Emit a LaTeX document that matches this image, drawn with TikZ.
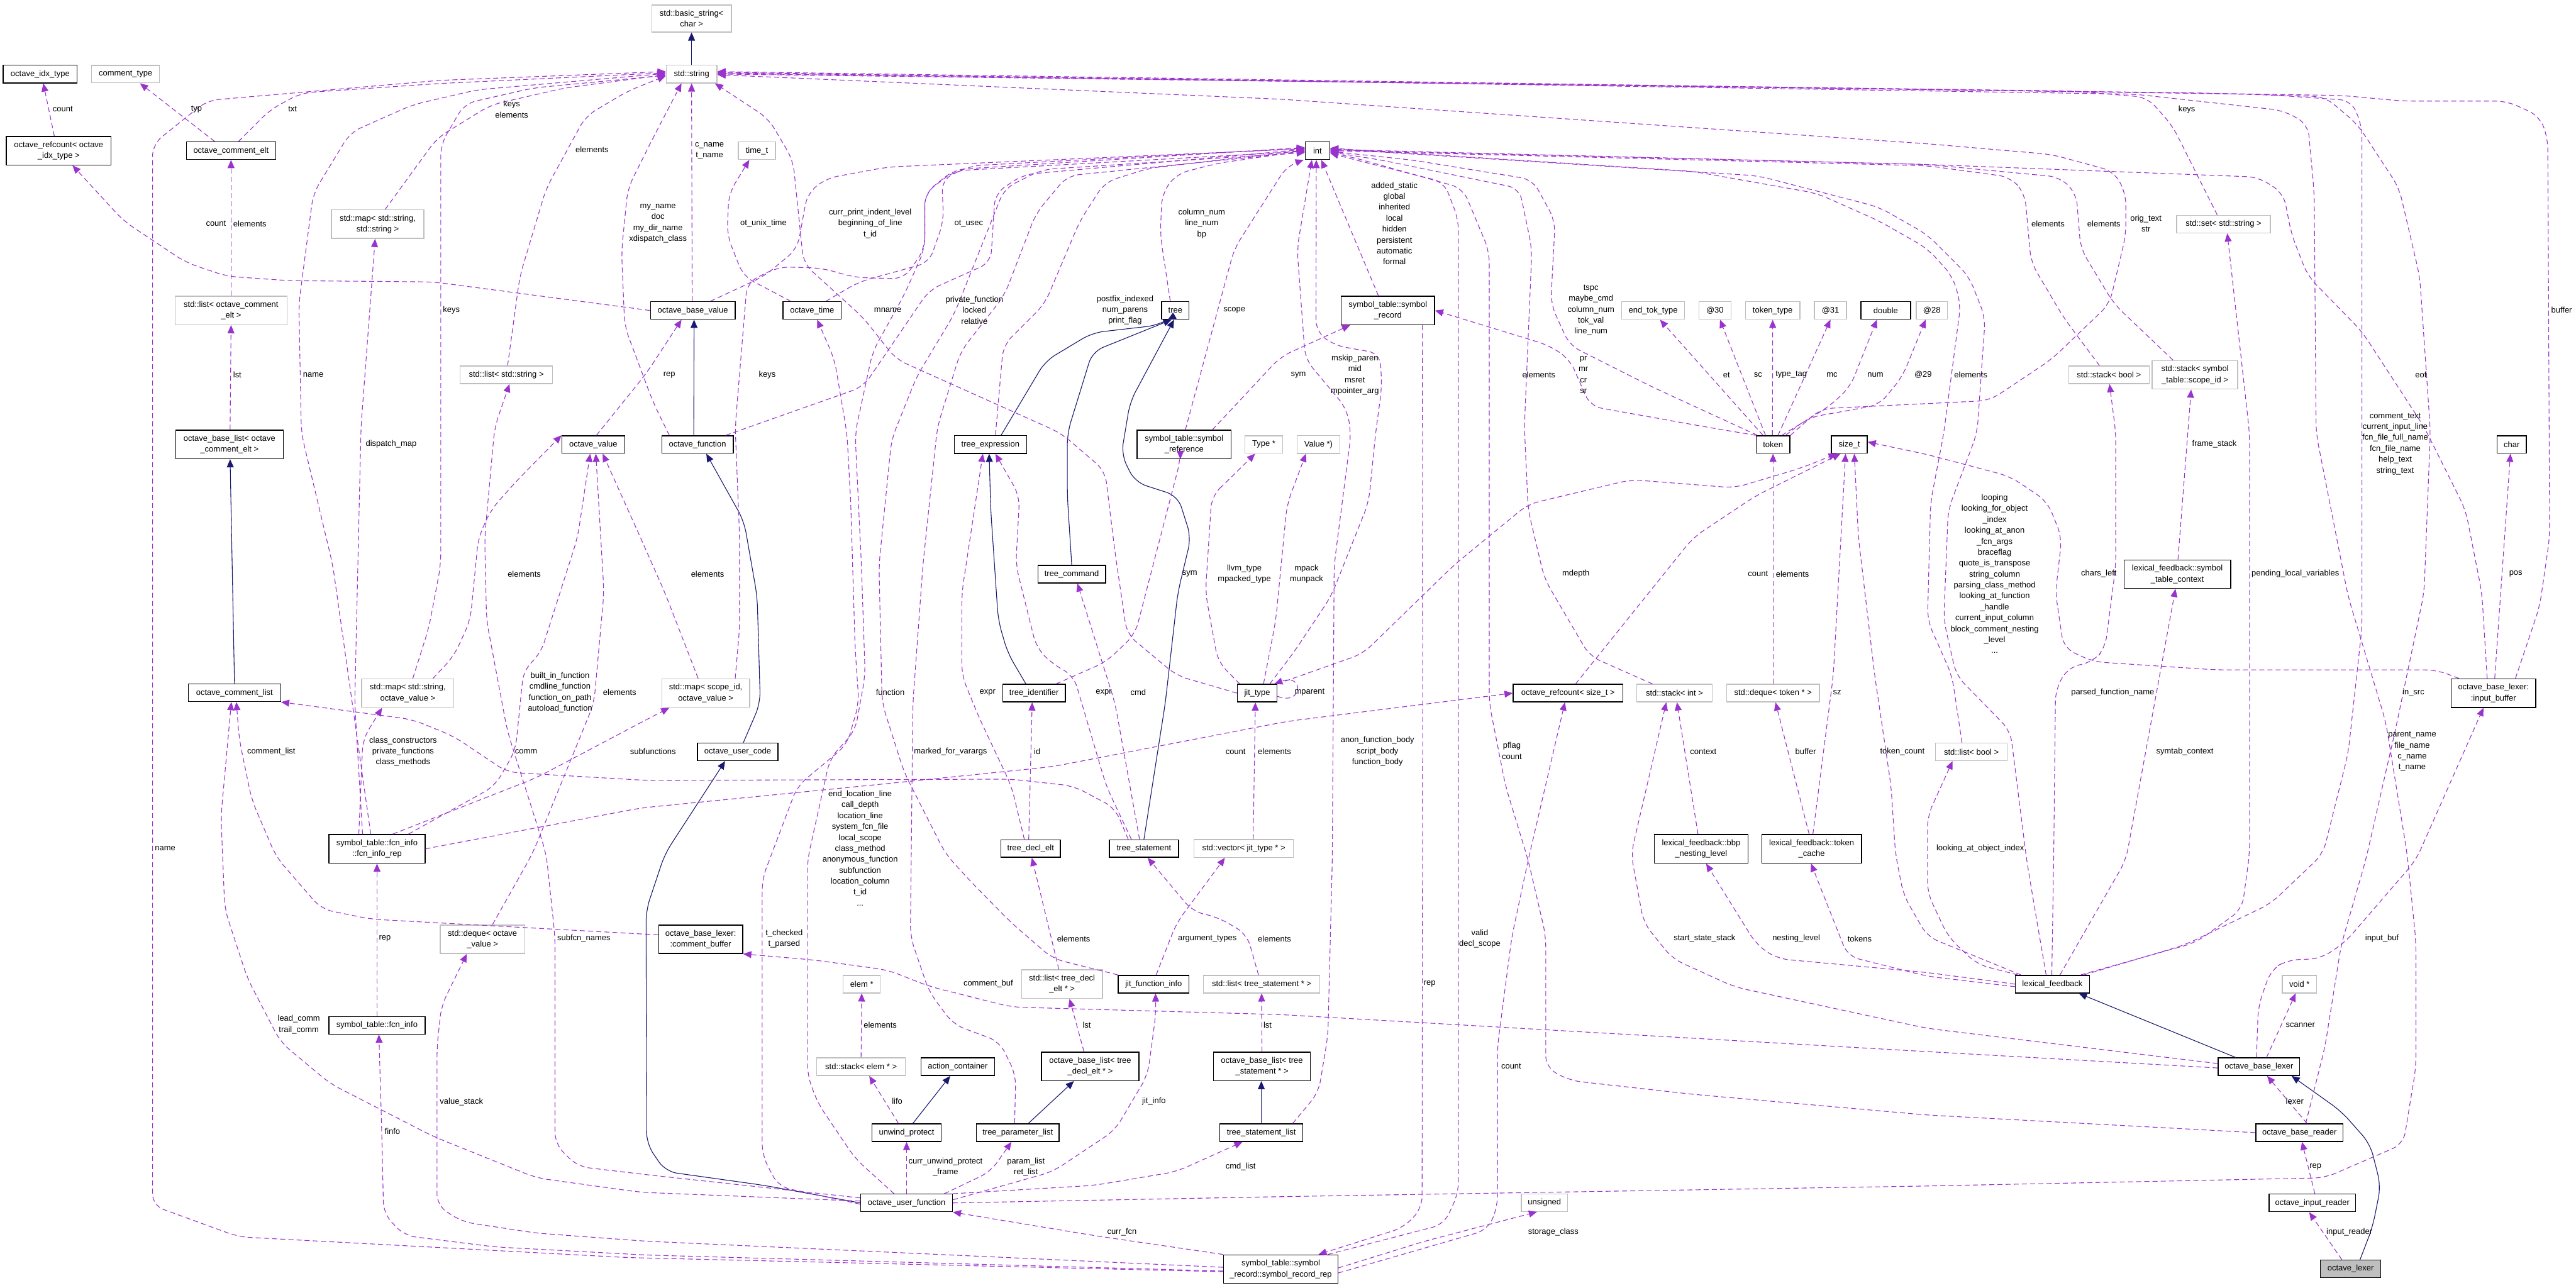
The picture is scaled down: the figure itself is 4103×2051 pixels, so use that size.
\documentclass[tikz,border=0pt]{standalone}
\usepackage{fontspec}
\setmainfont{Liberation Sans}
\usetikzlibrary{arrows.meta}
\definecolor{orch}{HTML}{9A32CD}
\definecolor{mnb}{HTML}{191970}
\definecolor{gsf}{HTML}{BFBFBF}
\newcommand\dfs{\fontsize{13}{17.4}\selectfont}
\begin{document}
\begin{tikzpicture}[x=1pt,y=-1pt,
 cb/.style={draw=black, line width=1.4pt, fill=white, font=\dfs, align=center, inner xsep=4pt, inner ysep=8pt, minimum height=28pt},
 cg/.style={cb, draw=gsf},
 usg/.style={draw=orch, line width=1.1pt, dash pattern=on 8pt off 5pt, rounded corners=18pt, -{Triangle[length=13pt,width=11pt]}},
 inh/.style={draw=mnb, line width=1.1pt, rounded corners=18pt, -{Triangle[length=13pt,width=11pt]}},
 lab/.style={font=\dfs, align=center, inner sep=0pt}]
\fill[white] (0,0) rectangle (4103,2051);
\useasboundingbox (0,0) rectangle (4103,2051);
% ---------------- nodes
\node[cb, minimum width=118pt] (idx) at (64,118) {octave\_idx\_type};
\node[cg, minimum width=108pt] (ctype) at (200,118) {comment\_type};
\node[cb, minimum width=167pt] (rcidx) at (93.5,240) {octave\_refcount< octave\\\_idx\_type >};
\node[cb, minimum width=142pt] (celt) at (368,240) {octave\_comment\_elt};
\node[cg, minimum width=147pt] (mapss) at (601.5,357) {std::map< std::string,\\std::string >};
\node[cg, minimum width=178pt] (lstce) at (368,494.5) {std::list< octave\_comment\\\_elt >};
\node[cg, minimum width=147pt] (lstr) at (806.5,597) {std::list< std::string >};
\node[cg, minimum width=127pt] (bstr) at (1101.5,29.5) {std::basic\_string<\\char >};
\node[cg, minimum width=81pt] (str) at (1101.5,118) {std::string};
\node[cg, minimum width=59pt] (timet) at (1205.5,240) {time\_t};
\node[cb, minimum width=135pt] (obv) at (1103.5,494.5) {octave\_base\_value};
\node[cb, minimum width=93pt] (otime) at (1293.5,494.5) {octave\_time};
\node[cb, minimum width=44pt] (tree) at (1872,494.5) {tree};
\node[cb, minimum width=39pt] (int) at (2098.5,240) {int};
\node[cb, minimum width=149pt] (symrec) at (2210.5,494.5) {symbol\_table::symbol\\\_record};
\node[cg, minimum width=100pt] (endtok) at (2633,494.5) {end\_tok\_type};
\node[cg, minimum width=51pt] (a30) at (2731.5,494.5) {@30};
\node[cg, minimum width=87pt] (toktype) at (2823.5,494.5) {token\_type};
\node[cg, minimum width=51pt] (a31) at (2915.5,494.5) {@31};
\node[cb, minimum width=79pt] (dbl) at (3003.5,494.5) {double};
\node[cg, minimum width=50pt] (a28) at (3077,494.5) {@28};
\node[cg, minimum width=149pt] (sset) at (3541.5,357) {std::set< std::string >};
\node[cg, minimum width=128pt] (stkb) at (3359,597) {std::stack< bool >};
\node[cg, minimum width=136pt] (stksc) at (3496,597) {std::stack< symbol\\\_table::scope\_id >};
\node[cb, minimum width=171pt] (cbl) at (365.5,708) {octave\_base\_list< octave\\\_comment\_elt >};
\node[cb, minimum width=100pt] (oval) at (945,708) {octave\_value};
\node[cb, minimum width=147pt] (ocl) at (373.5,1103.5) {octave\_comment\_list};
\node[cg, minimum width=147pt] (mapsov) at (649.5,1104) {std::map< std::string,\\octave\_value >};
\node[cb, minimum width=153pt] (fir) at (600.5,1352) {symbol\_table::fcn\_info\\::fcn\_info\_rep};
\node[cb, minimum width=114pt] (ofun) at (1111,708) {octave\_function};
\node[cb, minimum width=115pt] (texpr) at (1577.5,708) {tree\_expression};
\node[cb, minimum width=150pt] (symref) at (1886,708) {symbol\_table::symbol\\\_reference};
\node[cg, minimum width=60pt] (typep) at (2013,708) {Type *};
\node[cb, minimum width=108pt] (tcmd) at (1707,914.5) {tree\_command};
\node[cg, minimum width=140pt] (mapscov) at (1124,1104) {std::map< scope\_id,\\octave\_value >};
\node[cb, minimum width=100pt] (tid) at (1647,1104) {tree\_identifier};
\node[cb, minimum width=63pt] (jtype) at (2002.5,1104) {jit\_type};
\node[cb, minimum width=128pt] (ouc) at (1175,1197.5) {octave\_user\_code};
\node[cb, minimum width=95pt] (tdecl) at (1641.5,1351.5) {tree\_decl\_elt};
\node[cb, minimum width=110pt] (tstmt) at (1822,1351.5) {tree\_statement};
\node[cg, minimum width=158pt] (vjt) at (1981,1351.5) {std::vector< jit\_type * >};
\node[cg, minimum width=68pt] (valp) at (2100,708) {Value *)};
\node[cb, minimum width=54pt] (token) at (2824,708) {token};
\node[cb, minimum width=57pt] (sizet) at (2945.5,708) {size\_t};
\node[cb, minimum width=175pt] (rcsz) at (2497.5,1104) {octave\_refcount< size\_t >};
\node[cg, minimum width=120pt] (stki) at (2667,1104) {std::stack< int >};
\node[cg, minimum width=148pt] (dqt) at (2824,1104) {std::deque< token * >};
\node[cb, minimum width=149pt] (bbp) at (2709.5,1352) {lexical\_feedback::bbp\\\_nesting\_level};
\node[cb, minimum width=159pt] (tcache) at (2885.5,1352) {lexical\_feedback::token\\\_cache};
\node[cb, minimum width=47pt] (chr) at (4000.5,708) {char};
\node[cb, minimum width=170pt] (stctx) at (3468,914.5) {lexical\_feedback::symbol\\\_table\_context};
\node[cb, minimum width=135pt] (ibuf) at (3971.5,1104) {octave\_base\_lexer:\\:input\_buffer};
\node[cg, minimum width=114pt] (lstb) at (3140,1197.5) {std::list< bool >};
\node[cg, minimum width=135pt] (dqov) at (768.5,1496) {std::deque< octave\\\_value >};
\node[cb, minimum width=153pt] (finfo) at (600.5,1633) {symbol\_table::fcn\_info};
\node[cb, minimum width=134pt] (cbuf) at (1116,1496) {octave\_base\_lexer:\\:comment\_buffer};
\node[cg, minimum width=59pt] (elemp) at (1372.5,1567.5) {elem *};
\node[cg, minimum width=129pt] (lstde) at (1691.5,1567.5) {std::list< tree\_decl\\\_elt * >};
\node[cb, minimum width=113pt] (jfi) at (1837.5,1567.5) {jit\_function\_info};
\node[cg, minimum width=185pt] (lstts) at (2009.5,1567.5) {std::list< tree\_statement * >};
\node[cg, minimum width=141pt] (stke) at (1371.5,1699) {std::stack< elem * >};
\node[cb, minimum width=117pt] (actc) at (1525.5,1699) {action\_container};
\node[cb, minimum width=155pt] (bldecl) at (1736.5,1698.5) {octave\_base\_list< tree\\\_decl\_elt * >};
\node[cb, minimum width=154pt] (blstmt) at (2010,1698.5) {octave\_base\_list< tree\\\_statement * >};
\node[cb, minimum width=110pt] (uwp) at (1444,1804) {unwind\_protect};
\node[cb, minimum width=132pt] (tpl) at (1621,1804) {tree\_parameter\_list};
\node[cb, minimum width=132pt] (tsl) at (2009,1804) {tree\_statement\_list};
\node[cb, minimum width=146pt] (ouf) at (1444,1916) {octave\_user\_function};
\node[cb, minimum width=182pt] (srr) at (2040,2021.5) {symbol\_table::symbol\\\_record::symbol\_record\_rep};
\node[cg, minimum width=74pt] (uns) at (2460,1915.5) {unsigned};
\node[cb, minimum width=118pt] (lexfb) at (3269,1567.5) {lexical\_feedback};
\node[cg, minimum width=55pt] (voidp) at (3662.5,1567.5) {void *};
\node[cb, minimum width=130pt] (obl) at (3598,1699) {octave\_base\_lexer};
\node[cb, minimum width=139pt] (obr) at (3662.5,1804) {octave\_base\_reader};
\node[cb, minimum width=138pt] (oir) at (3683,1916) {octave\_input\_reader};
\node[cb, minimum width=96pt, fill=gsf] (olex) at (3744,2021) {octave\_lexer};
% ---------------- inheritance
\draw[inh] (str.north) -- (bstr.south);
\draw[inh] ([xshift=-6pt]ofun.north) -- ([xshift=2pt]obv.south);
\draw[inh] ([xshift=9pt]ouc.north) -- (1211,1120) -- (1206,950) -- (1185,830) -- ([xshift=14pt]ofun.south);
\draw[inh] (ouf.west) -- (1217,1888) -- (1060,1866) -- (1030,1822) -- (1029,1450) -- (1059,1360) -- ([xshift=-20pt]ouc.south);
\draw[inh] (ocl.north) -- ([xshift=1pt]cbl.south);
\draw[inh] ([xshift=17pt]texpr.north) -- (1665,575) -- (1740,530) -- (1845,518) -- ([xshift=-12pt]tree.south);
\draw[inh] (tcmd.north) -- (1700,790) -- (1700,690) -- (1740,560) -- ([xshift=-6pt]tree.south);
\draw[inh] (tstmt.north) -- (1856,1120) -- (1876,944) -- (1897,856) -- (1876,790) -- (1808,768) -- (1786,724) -- (1800,640) -- ([xshift=-2pt]tree.south);
\draw[inh] ([xshift=-13pt]tid.north) -- (1605,1040) -- (1590,988) -- (1578,812) -- ([xshift=-2pt]texpr.south);
\draw[inh] ([xshift=10pt]uwp.north) -- ([xshift=-12pt]actc.south);
\draw[inh] ([xshift=17pt]tpl.north) -- ([xshift=-26pt]bldecl.south);
\draw[inh] (tsl.north) -- ([xshift=-1pt]blstmt.south);
\draw[inh] ([xshift=-37pt]obl.north) -- ([xshift=42pt]lexfb.south);
\draw[inh] ([xshift=15pt]olex.north) -- (3779,1954) -- (3792,1889) -- (3775,1822) -- (3729,1770) -- ([xshift=52pt]obl.south);
% ---------------- usage edges
\draw[usg] ([xshift=-7pt]rcidx.north) -- ([xshift=5pt]idx.south);
\draw[usg] ([xshift=-26pt]celt.north) -- ([xshift=23pt]ctype.south);
\draw[usg] ([xshift=12pt]celt.north) -- (430,175) -- (480,148) -- (700,133) -- ([yshift=2pt]str.west);
\draw[usg] ([yshift=-4pt]srr.west) -- (1000,2003) -- (380,1970) -- (243,1920) -- (243,230) -- (330,160) -- (700,128) -- ([yshift=4pt]str.west);
\draw[usg] ([xshift=-10pt]fir.north) -- (530,900) -- (480,690) -- (476,484) -- (499,308) -- (558,211) -- (657,167) -- (760,143) -- ([yshift=1pt]str.west);
\draw[usg] ([xshift=12pt]mapss.north) -- (696,220) -- (782,167) -- (900,140) -- ([yshift=-1pt]str.west);
\draw[usg] ([xshift=8pt]mapsov.north) -- (683,1000) -- (702,900) -- (702,230) -- (740,165) -- (850,140) -- ([yshift=-2pt]str.west);
\draw[usg] ([xshift=2pt]lstr.north) -- (828,440) -- (870,300) -- (933,185) -- (1000,145) -- ([yshift=-3pt]str.west);
\draw[usg] ([xshift=-45pt]ofun.north) -- (1040,640) -- (995,520) -- (990,400) -- (1000,300) -- (1040,220) -- ([xshift=-16pt]str.south);
\draw[usg] ([xshift=-1pt]obv.north) -- ([xshift=0pt]str.south);
\draw[usg] (jtype.west) -- (1874,1076) -- (1795,1010) -- (1776,880) -- (1760,750) -- (1690,690) -- (1427,572) -- (1375,506) -- (1280,420) -- (1263,255) -- (1224,189) -- ([xshift=-4pt]str.south east);
\draw[usg] ([xshift=-34pt]otime.north) -- (1184,440) -- (1158,374) -- (1161,308) -- ([xshift=-12pt]timet.south);
\draw[usg] ([xshift=22pt]otime.north) -- (1368,449) -- (1480,418) -- (1503,352) -- (1500,286) -- (1546,264) -- ([yshift=4pt]int.west);
\draw[usg] ([xshift=28pt]obv.north) -- (1217,440) -- (1270,396) -- (1286,308) -- (1316,284) -- (1414,266) -- ([yshift=3pt]int.west);
\draw[usg] ([xshift=45pt]ofun.north) -- (1375,616) -- (1480,462) -- (1578,418) -- (1585,308) -- (1630,278) -- ([yshift=2pt]int.west);
\draw[usg] ([xshift=8pt]texpr.north) -- (1598,550) -- (1664,484) -- (1720,352) -- (1760,290) -- (1830,268) -- ([yshift=1pt]int.west);
\draw[usg] ([xshift=-8pt]tree.north) -- (1848,374) -- (1851,308) -- (1874,277) -- (1940,260) -- ([yshift=0pt]int.west);
\draw[usg] ([xshift=2pt]symref.north) -- (1966,396) -- (2050,264) -- ([xshift=-2pt]int.south west);
\draw[usg] ([xshift=-15pt]symrec.north) -- ([xshift=6pt]int.south);
\draw[usg] ([xshift=45pt]symref.north) -- (2040,568) -- ([xshift=-60pt]symrec.south);
\draw[usg] ([xshift=35pt]tid.north) -- (1762,1054) -- (1808,1010) -- (1880,733) -- ([xshift=-6pt]symref.south);
\draw[usg] ([xshift=20pt]jtype.north) -- (2060,1040) -- (2120,950) -- (2180,800) -- (2191,690) -- (2201,616) -- (2198,563) -- (2125,550) -- (2096,528) -- ([xshift=-2pt]int.south);
\draw[usg] ([xshift=50pt]tsl.north) -- (2100,1740) -- (2115,1650) -- (2122,1370) -- (2125,900) -- (2152,690) -- (2145,651) -- (2079,572) -- (2066,396) -- ([xshift=-9pt]int.south);
\draw[usg] ([xshift=55pt]symrec.south) -- (2266,1120) -- (2265,1924) -- (2236,1955) -- ([xshift=60pt]srr.north);
\draw[usg] ([xshift=75pt]srr.north) -- (2300,1950) -- (2323,1900) -- (2323,350) -- (2300,290) -- (2160,255) -- ([yshift=-4pt]int.east);
\draw[usg] (obr.west) -- (3070,1776) -- (2697,1743) -- (2500,1721) -- (2462,1700) -- (2462,1490) -- (2434,1370) -- (2398,1252) -- (2372,1120) -- (2372,400) -- (2330,300) -- (2160,252) -- ([yshift=-3pt]int.east);
\draw[usg] ([xshift=-35pt]stki.north) -- (2532,1045) -- (2460,922) -- (2434,812) -- (2428,680) -- (2440,396) -- (2420,300) -- (2200,255) -- ([yshift=-2pt]int.east);
\draw[usg] ([xshift=-25pt]token.north) -- (2631,616) -- (2500,550) -- (2470,484) -- (2477,352) -- (2441,286) -- (2250,255) -- ([yshift=-1pt]int.east);
\draw[usg] (token.north west) -- (2717,680) -- (2533,647) -- (2500,572) -- (2467,550) -- (symrec.east);
\draw[usg] ([xshift=-16pt]token.north) -- ([xshift=11pt]endtok.south);
\draw[usg] ([xshift=-12pt]token.north) -- ([xshift=8pt]a30.south);
\draw[usg] ([xshift=-1pt]token.north) -- (toktype.south);
\draw[usg] ([xshift=8pt]token.north) -- (a31.south);
\draw[usg] ([xshift=14pt]token.north) -- (2914,647) -- (2947,616) -- ([xshift=-14pt]dbl.south);
\draw[usg] ([xshift=20pt]token.north) -- (2881,665) -- (2993,645) -- (3030,600) -- ([xshift=-10pt]a28.south);
\draw[usg] (token.north east) -- (2900,651) -- (3169,638) -- (3268,572) -- (3360,484) -- (3386,374) -- (3386,308) -- (3367,273) -- (3268,246) -- (3070,229) -- (2040,158) -- ([yshift=-1pt]str.east);
\draw[usg] ([xshift=-15pt]stkb.north) -- (3287,506) -- (3235,418) -- (3225,308) -- (3202,282) -- (3070,264) -- ([yshift=0pt]int.east);
\draw[usg] ([xshift=-35pt]stksc.north) -- (3367,484) -- (3314,396) -- (3307,308) -- (3281,282) -- (3070,262) -- ([yshift=1pt]int.east);
\draw[usg] ([xshift=-10pt]sset.north) -- (3460,200) -- (3420,155) -- (3300,145) -- ([yshift=2pt]str.east);
\draw[usg] ([xshift=50pt]lexfb.north) -- (3480,1505) -- (3617,1439) -- (3700,1360) -- (3740,1200) -- (3762,1000) -- (3762,200) -- (3745,160) -- (3600,150) -- ([yshift=1pt]str.east);
\draw[usg] ([xshift=10pt]obr.north) -- (3703,1668) -- (3729,1505) -- (3768,1370) -- (3815,1164) -- (3861,944) -- (3871,686) -- (3854,440) -- (3821,299) -- (3755,198) -- (3703,154) -- (3500,148) -- ([yshift=0pt]str.east);
\draw[usg] (ouf.east) -- (2040,1906) -- (3070,1889) -- (3703,1876) -- (3828,1822) -- (3848,1700) -- (3848,1500) -- (3834,1360) -- (3800,1150) -- (3740,950) -- (3689,690) -- (3686,308) -- (3676,198) -- (3637,176) -- (3400,150) -- ([yshift=3pt]str.east);
\draw[usg] ([xshift=35pt]ibuf.north) -- (4045,966) -- (4061,856) -- (4058,220) -- (4045,185) -- (3993,161) -- (3828,161) -- (3729,152) -- ([yshift=4pt]str.east);
\draw[usg] ([xshift=-10pt]ibuf.north) -- (3953,944) -- (3927,812) -- (3861,680) -- (3762,528) -- (3676,440) -- (3650,374) -- (3637,308) -- (3597,282) -- (3070,262) -- ([yshift=2pt]int.east);
\draw[usg] ([xshift=2pt]ibuf.north) -- ([xshift=-2pt]chr.south);
\draw[usg] ([xshift=-55pt]ibuf.north) -- (3881,1067) -- (3531,1067) -- (3334,1054) -- (3287,1032) -- (3274,944) -- (3284,856) -- (3261,799) -- (3202,759) -- (3070,724) -- ([yshift=4pt]sizet.east);
\draw[usg] ([xshift=1pt]stctx.north) -- ([xshift=-6pt]stksc.south);
\draw[usg] ([xshift=12pt]lexfb.north) -- (3386,1370) -- ([xshift=-3pt]stctx.south);
\draw[usg] ([xshift=45pt]lexfb.north) -- (3498,1501) -- (3571,1448) -- (3583,1360) -- (3583,690) -- ([xshift=6pt]sset.south);
\draw[usg] ([xshift=-1pt]lexfb.north) -- (3271,1370) -- (3274,1098) -- (3294,1063) -- (3334,1054) -- (3353,1032) -- (3370,900) -- (3370,690) -- ([xshift=1pt]stkb.south);
\draw[usg] ([xshift=-55pt]lexfb.north) -- (3149,1536) -- (3103,1492) -- (3070,1422) -- (3070,1300) -- ([xshift=-30pt]lstb.south);
\draw[usg] ([xshift=-10pt]lexfb.north) -- (3241,1448) -- (3228,1370) -- (3202,1164) -- (3116,1076) -- (3096,988) -- (3103,812) -- (3149,690) -- (3162,506) -- (3136,440) -- (3070,374) -- (2993,330) -- (2800,280) -- ([yshift=3pt]int.east);
\draw[usg] ([xshift=-15pt]lstb.north) -- (3109,1076) -- (3070,988) -- (3075,800) -- (3096,690) -- (3123,484) -- (3110,440) -- (3070,396) -- (2993,352) -- (2894,308) -- (2697,273) -- ([yshift=4pt]int.east);
\draw[usg] ([xshift=-50pt]lexfb.north) -- (3070,1492) -- (3032,1426) -- (3019,1360) -- (3012,1252) -- (2986,1076) -- (2960,856) -- ([xshift=8pt]sizet.south);
\draw[usg] (lexfb.west) -- (3070,1549) -- (2831,1527) -- (2798,1505) -- ([xshift=8pt]bbp.south);
\draw[usg] ([yshift=-4pt]lexfb.west) -- (3070,1555) -- (2943,1523) -- ([xshift=-1pt]tcache.south);
\draw[usg] ([yshift=5pt]obl.west) -- (3070,1638) -- (2763,1572) -- (2664,1527) -- (2618,1470) -- (2598,1360) -- ([xshift=-13pt]stki.south);
\draw[usg] ([yshift=-2pt]obl.west) -- (3070,1675) -- (2040,1616) -- (1611,1604) -- (1480,1571) -- (1414,1545) -- (1296,1529) -- (cbuf.south east);
\draw[usg] ([xshift=-4pt]obl.north) -- (3597,1602) -- (3617,1545) -- (3643,1529) -- (3696,1527) -- (3735,1501) -- (3848,1370) -- ([xshift=-16pt]ibuf.south);
\draw[usg] ([xshift=12pt]obl.north) -- ([xshift=-6pt]voidp.south);
\draw[usg] ([xshift=12pt]obr.north) -- ([xshift=13pt]obl.south);
\draw[usg] ([xshift=4pt]oir.north) -- ([xshift=4pt]obr.south);
\draw[usg] ([xshift=-14pt]olex.north) -- ([xshift=-5pt]oir.south);
\draw[usg] ([xshift=2pt]tcache.north) -- (2920,1076) -- ([xshift=-6pt]sizet.south);
\draw[usg] ([xshift=-4pt]tcache.north) -- ([xshift=4pt]dqt.south);
\draw[usg] ([xshift=-5pt]bbp.north) -- ([xshift=4pt]stki.south);
\draw[usg] (dqt.north) -- (token.south);
\draw[usg] ([xshift=12pt]rcsz.north) -- (2697,856) -- (2796,790) -- ([xshift=-14pt]sizet.south);
\draw[usg] (jtype.north east) -- (2171,1041) -- (2316,900) -- (2434,803) -- (2598,764) -- (2763,777) -- (2870,745) -- ([xshift=-20pt]sizet.south);
\draw[usg] ([xshift=10pt]jtype.north) -- (2032,988) -- (2050,803) -- ([xshift=-20pt]valp.south);
\draw[usg] ([xshift=-28pt]jtype.north) -- (1940,1054) -- (1920,944) -- (1930,790) -- (1953,768) -- ([xshift=-14pt]typep.south);
\draw[usg] ([yshift=-5pt]jtype.east) .. controls (2075,1125) and (2078,1072) .. ([xshift=-5pt]jtype.north east);
\draw[usg] ([xshift=15pt]vjt.north) -- ([xshift=-3pt]jtype.south);
\draw[usg] ([xshift=4pt]jfi.north) -- (1874,1470) -- ([xshift=-30pt]vjt.south);
\draw[usg] ([xshift=-5pt]lstts.north) -- (1986,1488) -- (1940,1461) -- (1900,1452) -- ([xshift=6pt]tstmt.south);
\draw[usg] (blstmt.north) -- ([xshift=0pt]lstts.south);
\draw[usg] (ouf.north east) -- (1743,1888) -- (1874,1866) -- ([xshift=-30pt]tsl.south);
\draw[usg] ([yshift=5pt]ouf.east) -- (1677,1866) -- (1776,1800) -- (1828,1712) -- (1841,1615) -- ([xshift=3pt]jfi.south);
\draw[usg] ([xshift=60pt]ouf.north) -- (1578,1866) -- ([xshift=-10pt]tpl.south);
\draw[usg] (ouf.north) -- (uwp.south);
\draw[usg] ([xshift=-13pt]uwp.north) -- ([xshift=13pt]stke.south);
\draw[usg] (stke.north) -- (elemp.south);
\draw[usg] ([xshift=-10pt]bldecl.north) -- ([xshift=12pt]lstde.south);
\draw[usg] ([xshift=-5pt]lstde.north) -- ([xshift=2pt]tdecl.south);
\draw[usg] ([xshift=-3pt]tdecl.north) -- ([xshift=-3pt]tid.south);
\draw[usg] ([xshift=-10pt]tdecl.north) -- (1611,1252) -- (1559,1142) -- (1532,1076) -- (1532,944) -- ([xshift=-12pt]texpr.south);
\draw[usg] ([xshift=-20pt]tstmt.north) -- (1762,1252) -- (1710,1076) -- (1677,1058) -- (1651,1032) -- (1618,900) -- (1624,790) -- ([xshift=8pt]texpr.south);
\draw[usg] ([xshift=-7pt]tstmt.north) -- (1776,1120) -- ([xshift=9pt]tcmd.south);
\draw[usg] ([xshift=-25pt]tstmt.north) -- (1776,1287) -- (1710,1252) -- (1611,1241) -- (1030,1243) -- (808,1230) -- (723,1173) -- (657,1146) -- (ocl.south east);
\draw[usg] ([yshift=7pt]cbuf.west) -- (591,1464) -- (512,1448) -- (440,1365) -- (401,1274) -- (381,1177) -- ([xshift=3pt]ocl.south);
\draw[usg] ([yshift=3pt]ouf.west) -- (1020,1899) -- (854,1876) -- (690,1810) -- (526,1726) -- (447,1660) -- (394,1558) -- (358,1448) -- (352,1300) -- ([xshift=-5pt]ocl.south);
\draw[usg] ([yshift=8pt]ouf.west) -- (1030,1871) -- (920,1858) -- (884,1822) -- (884,1492) -- (870,1360) -- (808,1164) -- (775,988) -- (772,856) -- (788,680) -- ([xshift=5pt]lstr.south);
\draw[usg] ([yshift=-2pt]ouf.west) -- (1240,1890) -- (1214,1840) -- (1214,1400) -- (1270,1252) -- (1349,1186) -- (1368,1120) -- (1362,1032) -- (1355,800) -- (1349,690) -- (1329,572) -- ([xshift=8pt]otime.south);
\draw[usg] ([xshift=-20pt]ouf.north) -- (1362,1845) -- (1302,1756) -- (1286,1712) -- (1286,1370) -- (1322,1208) -- (1362,1164) -- (1378,1076) -- (1372,900) -- (1362,690) -- (1390,560) -- (1440,470) -- (1473,396) -- (1473,308) -- (1520,272) -- ([yshift=-1pt]int.west);
\draw[usg] ([xshift=-5pt]tpl.north) -- (1618,1712) -- (1592,1659) -- (1519,1632) -- (1480,1580) -- (1450,1492) -- (1454,1120) -- (1470,900) -- (1493,680) -- (1530,560) -- (1600,470) -- (1650,340) -- (1700,280) -- ([yshift=-2pt]int.west);
\draw[usg] (jfi.north west) -- (1677,1527) -- (1611,1470) -- (1546,1404) -- (1506,1360) -- (1440,1230) -- (1405,1120) -- (1400,900) -- (1420,700) -- (1460,600) -- (1520,500) -- (1560,400) -- (1600,300) -- (1660,270) -- ([yshift=-3pt]int.west);
\draw[usg] (obv.west) -- (690,449) -- (460,447) -- (361,440) -- (296,418) -- (197,352) -- ([xshift=22pt]rcidx.south);
\draw[usg] ([xshift=1pt]cbl.north) -- (lstce.south);
\draw[usg] (lstce.north) -- (celt.south);
\draw[usg] ([xshift=5pt]oval.north) -- (1030,594) -- ([xshift=-18pt]obv.south);
\draw[usg] ([xshift=40pt]mapsov.north) -- (723,1045) -- (749,988) -- (762,856) -- (782,812) -- (821,768) -- (oval.north west);
\draw[usg] ([xshift=50pt]fir.north) -- (788,1252) -- (821,1195) -- (834,1067) -- (861,1041) -- (920,856) -- ([xshift=-5pt]oval.south);
\draw[usg] ([xshift=16pt]dqov.north) -- (848,1360) -- (946,1120) -- (962,944) -- ([xshift=4pt]oval.south);
\draw[usg] ([xshift=-12pt]mapscov.north) -- (1059,944) -- (1020,856) -- ([xshift=15pt]oval.south);
\draw[usg] ([xshift=47pt]mapscov.north) -- (1178,1000) -- (1178,856) -- (1171,680) -- (1190,450) -- (1240,425) -- (1309,427) -- (1362,442) -- (1440,444) -- (1473,396) -- (1473,308) -- (1520,270) -- ([yshift=5pt]int.west);
\draw[usg] ([xshift=-23pt]fir.north) -- (565,1120) -- (575,680) -- ([xshift=-4pt]mapss.south);
\draw[usg] ([xshift=-29pt]fir.north) -- (578,1177) -- ([xshift=-41pt]mapsov.south);
\draw[usg] ([xshift=25pt]fir.north) -- (854,1239) -- (1030,1146) -- ([xshift=-58pt]mapscov.south);
\draw[usg] (fir.east) -- (1020,1287) -- (1414,1248) -- (1677,1221) -- (2050,1149) -- (rcsz.west);
\draw[usg] (finfo.north) -- (fir.south);
\draw[usg] ([yshift=-3pt]srr.west) -- (1030,1999) -- (788,1986) -- (644,1968) -- (611,1933) -- (608,1801) -- ([xshift=3pt]finfo.south);
\draw[usg] ([yshift=3pt]srr.west) -- (1030,1977) -- (854,1964) -- (736,1946) -- (696,1920) -- (696,1668) -- (703,1602) -- ([xshift=-25pt]dqov.south);
\draw[usg] (srr.north west) -- (1743,1968) -- (ouf.south east);
\draw[usg] ([yshift=2pt]srr.east) -- (2269,1977) -- ([xshift=-12pt]uns.south);
\draw[usg] ([yshift=-6pt]srr.east) -- (2369,1959) -- (2385,1924) -- (2385,1668) -- (2408,1492) -- (2434,1370) -- ([xshift=-5pt]rcsz.south);
% ---------------- labels
\node[lab] (l1) at (100,174) {count};
\node[lab] (l2) at (313,174) {typ};
\node[lab] (l3) at (466,174) {txt};
\node[lab] (l4) at (815,174) {keys\\elements};
\node[lab] (l5) at (943,238) {elements};
\node[lab] (l6) at (344,356) {count};
\node[lab] (l7) at (398,356) {elements};
\node[lab] (l8) at (719,494) {keys};
\node[lab] (l9) at (378,597) {lst};
\node[lab] (l10) at (499,597) {name};
\node[lab] (l11) at (1048,356) {my\_name\\doc\\my\_dir\_name\\xdispatch\_class};
\node[lab] (l12) at (1130,240) {c\_name\\t\_name};
\node[lab] (l13) at (1216,356) {ot\_unix\_time};
\node[lab] (l14) at (1386,356) {curr\_print\_indent\_level\\beginning\_of\_line\\t\_id};
\node[lab] (l15) at (1543,356) {ot\_usec};
\node[lab] (l16) at (1914,356) {column\_num\\line\_num\\bp};
\node[lab] (l17) at (1414,494) {mname};
\node[lab] (l18) at (1552,494) {private\_function\\locked\\relative};
\node[lab] (l19) at (1792,494) {postfix\_indexed\\num\_parens\\print\_flag};
\node[lab] (l20) at (1966,494) {scope};
\node[lab] (l21) at (1222,597) {keys};
\node[lab] (l22) at (1066,597) {rep};
\node[lab] (l23) at (2221,356) {added\_static\\global\\inherited\\local\\hidden\\persistent\\automatic\\formal};
\node[lab] (l24) at (2534,494) {tspc\\maybe\_cmd\\column\_num\\tok\_val\\line\_num};
\node[lab] (l25) at (2068,597) {sym};
\node[lab] (l26) at (2158,597) {mskip\_paren\\mid\\msret\\mpointer\_arg};
\node[lab] (l27) at (2451,597) {elements};
\node[lab] (l28) at (2522,597) {pr\\mr\\cr\\sr};
\node[lab] (l29) at (2750,597) {et};
\node[lab] (l30) at (2800,597) {sc};
\node[lab] (l31) at (2853,597) {type\_tag};
\node[lab] (l32) at (2918,597) {mc};
\node[lab] (l33) at (2987,597) {num};
\node[lab] (l34) at (3063,597) {@29};
\node[lab] (l35) at (3139,597) {elements};
\node[lab] (l36) at (3483,174) {keys};
\node[lab] (l37) at (3262,356) {elements};
\node[lab] (l38) at (3351,356) {elements};
\node[lab] (l39) at (3418,356) {orig\_text\\str};
\node[lab] (l40) at (4080,494) {buffer};
\node[lab] (l41) at (3856,597) {eof};
\node[lab] (l42) at (3815,707) {comment\_text\\current\_input\_line\\fcn\_file\_full\_name\\fcn\_file\_name\\help\_text\\string\_text};
\node[lab] (l43) at (3527,707) {frame\_stack};
\node[lab] (l44) at (3177,914) {looping\\looking\_for\_object\\\_index\\looking\_at\_anon\\\_fcn\_args\\braceflag\\quote\_is\_transpose\\string\_column\\parsing\_class\_method\\looking\_at\_function\\\_handle\\current\_input\_column\\block\_comment\_nesting\\\_level\\...};
\node[lab] (l45) at (3343,914) {chars\_left};
\node[lab] (l46) at (3656,914) {pending\_local\_variables};
\node[lab] (l47) at (4007,914) {pos};
\node[lab] (l48) at (3365,1103) {parsed\_function\_name};
\node[lab] (l49) at (3844,1103) {in\_src};
\node[lab] (l50) at (3842,1197) {parent\_name\\file\_name\\c\_name\\t\_name};
\node[lab] (l51) at (3480,1197) {symtab\_context};
\node[lab] (l52) at (3154,1351) {looking\_at\_object\_index};
\node[lab] (l53) at (623,707) {dispatch\_map};
\node[lab] (l54) at (835,914) {elements};
\node[lab] (l55) at (892,1103) {built\_in\_function\\cmdline\_function\\function\_on\_path\\autoload\_function};
\node[lab] (l56) at (987,1103) {elements};
\node[lab] (l57) at (642,1197) {class\_constructors\\private\_functions\\class\_methods};
\node[lab] (l58) at (432,1197) {comment\_list};
\node[lab] (l59) at (838,1197) {comm};
\node[lab] (l60) at (1040,1197) {subfunctions};
\node[lab] (l61) at (263,1351) {name};
\node[lab] (l62) at (1127,914) {elements};
\node[lab] (l63) at (1418,1103) {function};
\node[lab] (l64) at (1573,1103) {expr};
\node[lab] (l65) at (1758,1103) {expr};
\node[lab] (l66) at (1813,1103) {cmd};
\node[lab] (l67) at (1895,914) {sym};
\node[lab] (l68) at (1982,914) {llvm\_type\\mpacked\_type};
\node[lab] (l69) at (1514,1197) {marked\_for\_varargs};
\node[lab] (l70) at (1652,1197) {id};
\node[lab] (l71) at (1968,1197) {count};
\node[lab] (l72) at (2030,1197) {elements};
\node[lab] (l73) at (1370,1351) {end\_location\_line\\call\_depth\\location\_line\\system\_fcn\_file\\local\_scope\\class\_method\\anonymous\_function\\subfunction\\location\_column\\t\_id\\...};
\node[lab] (l74) at (2081,914) {mpack\\munpack};
\node[lab] (l75) at (2510,914) {mdepth};
\node[lab] (l76) at (2800,914) {count};
\node[lab] (l77) at (2855,914) {elements};
\node[lab] (l78) at (2086,1103) {mparent};
\node[lab] (l79) at (2926,1103) {sz};
\node[lab] (l80) at (2194,1197) {anon\_function\_body\\script\_body\\function\_body};
\node[lab] (l81) at (2408,1196) {pflag\\count};
\node[lab] (l82) at (2713,1197) {context};
\node[lab] (l83) at (2876,1197) {buffer};
\node[lab] (l84) at (3030,1197) {token\_count};
\node[lab] (l85) at (613,1495) {rep};
\node[lab] (l86) at (930,1495) {subfcn\_names};
\node[lab] (l87) at (476,1632) {lead\_comm\\trail\_comm};
\node[lab] (l88) at (735,1755) {value\_stack};
\node[lab] (l89) at (625,1802) {finfo};
\node[lab] (l90) at (1249,1495) {t\_checked\\t\_parsed};
\node[lab] (l91) at (1574,1567) {comment\_buf};
\node[lab] (l92) at (1710,1495) {elements};
\node[lab] (l93) at (1923,1495) {argument\_types};
\node[lab] (l94) at (2030,1495) {elements};
\node[lab] (l95) at (1402,1633) {elements};
\node[lab] (l96) at (1731,1633) {lst};
\node[lab] (l97) at (2019,1633) {lst};
\node[lab] (l98) at (1429,1754) {lifo};
\node[lab] (l99) at (1838,1754) {jit\_info};
\node[lab] (l100) at (1506,1859) {curr\_unwind\_protect\\\_frame};
\node[lab] (l101) at (1634,1859) {param\_list\\ret\_list};
\node[lab] (l102) at (1976,1858) {cmd\_list};
\node[lab] (l103) at (1787,1962) {curr\_fcn};
\node[lab] (l104) at (2357,1495) {valid\\decl\_scope};
\node[lab] (l105) at (2277,1567) {rep};
\node[lab] (l106) at (2407,1698) {count};
\node[lab] (l107) at (2715,1495) {start\_state\_stack};
\node[lab] (l108) at (2861,1495) {nesting\_level};
\node[lab] (l109) at (2962,1495) {tokens};
\node[lab] (l110) at (2474,1962) {storage\_class};
\node[lab] (l111) at (3794,1495) {input\_buf};
\node[lab] (l112) at (3664,1633) {scanner};
\node[lab] (l113) at (3655,1754) {lexer};
\node[lab] (l114) at (3688,1858) {rep};
\node[lab] (l115) at (3742,1962) {input\_reader};
\end{tikzpicture}
\end{document}
